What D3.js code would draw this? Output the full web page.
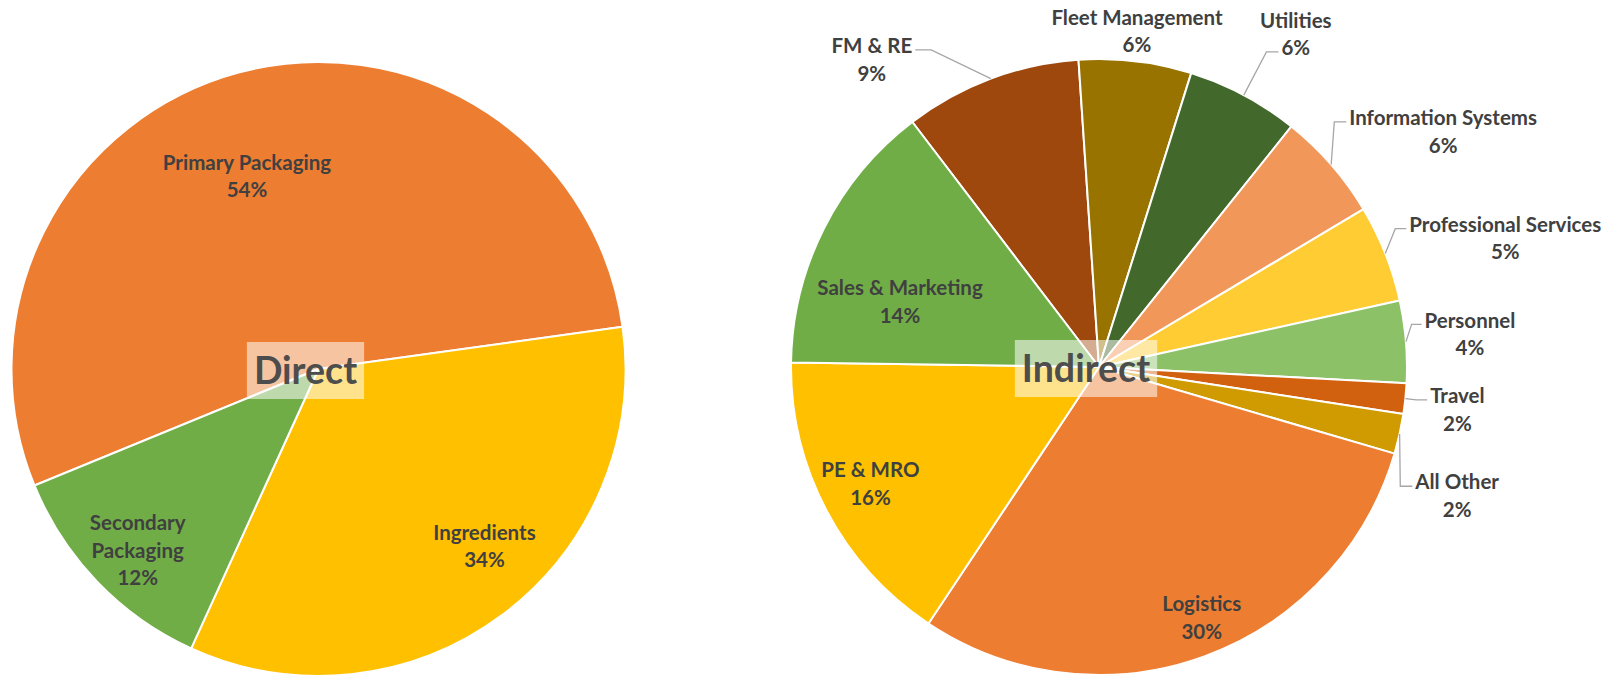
<!DOCTYPE html>
<html>
<head>
<meta charset="utf-8">
<script src="https://cdn.jsdelivr.net/npm/d3@7"></script>
<style>
  html, body { margin: 0; padding: 0; background: #fff; }
  svg { display: block; font-family: Lato, "Open Sans", sans-serif; }
</style>
</head>
<body>
<div id="chart"></div>
<script>
// ---- data ----
const directCategories = ["Primary Packaging", "Ingredients", "Secondary Packaging"];
const directValues = [54, 34, 12];
const directColors = ["#ED7D31", "#FFC000", "#70AD47"];

const indirectCategories = ["FM & RE", "Fleet Management", "Utilities", "Information Systems",
  "Professional Services", "Personnel", "Travel", "All Other", "Logistics", "PE & MRO", "Sales & Marketing"];
const indirectValues = [9.3, 5.9, 5.9, 5.7, 5.1, 4.3, 1.6, 2.1, 29.8, 15.9, 14.4];
const indirectColors = ["#9E480E", "#997300", "#43682B", "#F1975A", "#FFCD33", "#8CC168",
  "#D1600F", "#CF9B00", "#ED7D31", "#FFC000", "#70AD47"];

// ---- label placement: k = radius factor along slice mid angle, then a nudge ----
const directLayout = {
  "Primary Packaging":   { k: 0.67, dx: -18, dy: 6 },
  "Ingredients":         { k: 0.79, dx: 21, dy: -17 },
  "Secondary Packaging": { k: 0.84, dx: 5, dy: 3, wrap: true }
};
const indirectLayout = {
  "FM & RE":               { k: 1, dx: -119, dy: -19, leader: { side: "right", line: 0, elbow: 16 } },
  "Fleet Management":      { k: 1, dx: 1.5, dy: -30 },
  "Utilities":             { k: 1, dx: 52, dy: -61, leader: { side: "left", line: 1, elbow: 12 } },
  "Information Systems":   { k: 1, dx: 112, dy: -33, leader: { side: "left", line: 0, elbow: 12 } },
  "Professional Services": { k: 1, dx: 120, dy: -15, leader: { side: "left", line: 0, elbow: 11 } },
  "Personnel":             { k: 1, dx: 64, dy: -7.5, leader: { side: "left", line: 0, elbow: 10 } },
  "Travel":                { k: 1, dx: 52, dy: 11, leader: { side: "left", line: 0, elbow: 11 } },
  "All Other":             { k: 1, dx: 57.5, dy: 62, leader: { side: "left", line: 0, elbow: 12 } },
  "Logistics":             { k: 0.88, dx: 10, dy: -4 },
  "PE & MRO":              { k: 0.835, dx: -1, dy: -3 },
  "Sales & Marketing":     { k: 0.68, dx: -12, dy: 29 }
};

const W = 1612, H = 676;
const LH = 27.5;           // label line pitch
const pct = d3.format(".0%");
const rad = deg => deg * Math.PI / 180;

const svg = d3.select("#chart").append("svg")
  .attr("width", W)
  .attr("height", H)
  .attr("viewBox", `0 0 ${W} ${H}`);

const pies = [
  { title: "Direct", cx: 318.5, cy: 369, r: 307, start: -112.3,
    categories: directCategories, values: directValues, colors: directColors, layout: directLayout },
  { title: "Indirect", cx: 1099, cy: 367, r: 308, start: -37.3,
    categories: indirectCategories, values: indirectValues, colors: indirectColors, layout: indirectLayout }
];

function drawPie(p) {
  const g = svg.append("g").attr("transform", `translate(${p.cx},${p.cy})`);
  const total = d3.sum(p.values);

  const pie = d3.pie()
    .sort(null)
    .value(d => d.value)
    .startAngle(rad(p.start))
    .endAngle(rad(p.start) + 2 * Math.PI);

  const arcs = pie(p.categories.map((c, i) => ({ name: c, value: p.values[i], color: p.colors[i] })));
  const arc = d3.arc().innerRadius(0).outerRadius(p.r);

  g.selectAll("path.slice")
    .data(arcs)
    .join("path")
    .attr("class", "slice")
    .attr("d", arc)
    .attr("fill", d => d.data.color)
    .attr("stroke", "#fff")
    .attr("stroke-width", 2)
    .attr("stroke-linejoin", "round");

  // title in a translucent box near the centre
  const tg = g.append("g").attr("transform", "translate(-13,1)");
  const box = tg.append("rect").attr("fill", "#fff").attr("fill-opacity", 0.55);
  const title = tg.append("text")
    .attr("text-anchor", "middle")
    .attr("y", 13.5)
    .attr("font-size", 37.5)
    .attr("font-weight", 700)
    .attr("fill", "#4d4d4d")
    .text(p.title);
  const tw = title.node().getComputedTextLength();
  box.attr("x", -tw / 2 - 7).attr("y", -28).attr("width", tw + 14).attr("height", 57);

  // labels + leader lines
  const labels = g.append("g");
  const leaders = g.append("g");
  arcs.forEach(d => {
    const lay = p.layout[d.data.name];
    const mid = (d.startAngle + d.endAngle) / 2;
    const R = lay.k * p.r;
    const x = R * Math.sin(mid) + lay.dx;
    const y = -R * Math.cos(mid) + lay.dy;
    const lines = (lay.wrap ? d.data.name.split(" ") : [d.data.name]).concat([pct(d.data.value / total)]);

    const t = labels.append("text")
      .attr("text-anchor", "middle")
      .attr("font-size", 20.5)
      .attr("font-weight", 700)
      .attr("fill", "#404040");
    const spans = lines.map((s, i) => t.append("tspan")
      .attr("x", x)
      .attr("y", y + (i - (lines.length - 1) / 2) * LH)
      .attr("dy", "0.35em")
      .text(s));

    if (lay.leader) {
      const L = lay.leader;
      const w = spans[L.line].node().getComputedTextLength();
      const ly = y + (L.line - (lines.length - 1) / 2) * LH + 4;
      const ax = L.side === "left" ? x - w / 2 - 3 : x + w / 2 + 3;
      const ex = L.side === "left" ? ax - L.elbow : ax + L.elbow;
      const edge = [p.r * Math.sin(mid), -p.r * Math.cos(mid)];
      leaders.append("path")
        .attr("d", d3.line()([edge, [ex, ly], [ax, ly]]))
        .attr("fill", "none")
        .attr("stroke", "#a6a6a6")
        .attr("stroke-width", 1.3);
    }
  });
}

pies.forEach(drawPie);
</script>
</body>
</html>
